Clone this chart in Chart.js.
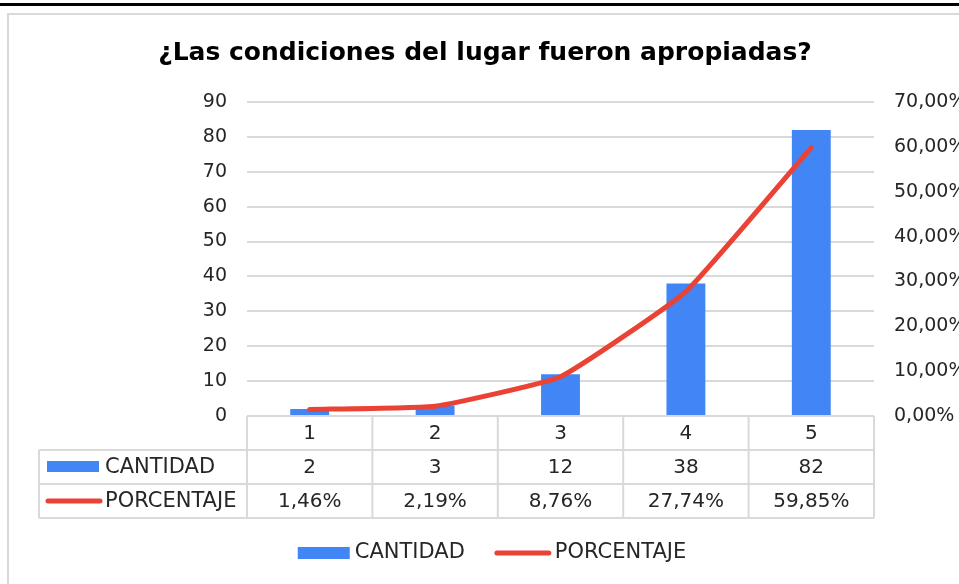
<!DOCTYPE html>
<html>
<head>
<meta charset="utf-8">
<title>¿Las condiciones del lugar fueron apropiadas?</title>
<script src="https://cdn.jsdelivr.net/npm/chart.js@4/dist/chart.umd.min.js"></script>
<style>
	html, body { margin: 0; padding: 0; background: #fff; }
	canvas { display: block; }
</style>
</head>
<body>
<canvas id="grafico" width="959" height="584"></canvas>
<script>
	// datos
	var titulo = '¿Las condiciones del lugar fueron apropiadas?';
	var categorias = ['1', '2', '3', '4', '5'];
	var cantidad = [2, 3, 12, 38, 82];
	var porcentaje = [1.46, 2.19, 8.76, 27.74, 59.85];
	var nombres = ['CANTIDAD', 'PORCENTAJE'];
	var colores = ['#4285F4', '#EA4335'];

	var fuente = 'DejaVu Sans';
	var gris = '#d9d9d9';
	var texto = '#262626';

	function fmtPct(v) {
		return v.toFixed(2).replace('.', ',') + '%';
	}

	Chart.defaults.font.family = fuente;
	Chart.defaults.color = texto;

	var tablaDatos = {
		id: 'tablaDatos',
		beforeDraw: function(chart) {
			var ctx = chart.ctx;
			ctx.save();
			ctx.fillStyle = '#fff';
			ctx.fillRect(0, 0, chart.width, chart.height);
			// linea negra superior
			ctx.fillStyle = '#000';
			ctx.fillRect(0, 3, chart.width, 3);
			// marco del grafico
			ctx.strokeStyle = gris;
			ctx.lineWidth = 2;
			ctx.strokeRect(8, 14, 1000, 1000);
			// titulo
			ctx.fillStyle = '#000';
			ctx.font = 'bold 25px ' + fuente;
			ctx.textAlign = 'center';
			ctx.textBaseline = 'alphabetic';
			ctx.fillText(titulo, 485, 60);
			ctx.restore();
		},
		afterDraw: function(chart) {
			var ctx = chart.ctx;
			var area = chart.chartArea;
			var xs = chart.scales.x;
			var bordes = [area.left];
			for (var i = 0; i < categorias.length - 1; i++) {
				bordes.push((xs.getPixelForValue(i) + xs.getPixelForValue(i + 1)) / 2);
			}
			bordes.push(area.right);
			var alto = 34;
			var y0 = area.bottom;
			var izq = 39;

			ctx.save();
			ctx.strokeStyle = gris;
			ctx.lineWidth = 2;
			ctx.beginPath();
			ctx.moveTo(area.left, y0);
			ctx.lineTo(area.right, y0);
			for (var r = 1; r <= 3; r++) {
				ctx.moveTo(izq, y0 + r * alto);
				ctx.lineTo(area.right, y0 + r * alto);
			}
			ctx.moveTo(izq, y0 + alto);
			ctx.lineTo(izq, y0 + 3 * alto);
			bordes.forEach(function(b) {
				ctx.moveTo(b, y0);
				ctx.lineTo(b, y0 + 3 * alto);
			});
			ctx.stroke();

			ctx.fillStyle = texto;
			ctx.font = '20px ' + fuente;
			ctx.textAlign = 'center';
			ctx.textBaseline = 'middle';
			var filas = [categorias, cantidad.map(String), porcentaje.map(fmtPct)];
			filas.forEach(function(fila, r) {
				fila.forEach(function(t, i) {
					ctx.fillText(t, xs.getPixelForValue(i), y0 + r * alto + alto / 2 + 1);
				});
			});

			// claves de la tabla
			ctx.fillStyle = colores[0];
			ctx.fillRect(47, y0 + alto + 11, 52, 11);
			ctx.strokeStyle = colores[1];
			ctx.lineWidth = 5;
			ctx.lineCap = 'round';
			ctx.beginPath();
			ctx.moveTo(48, y0 + 2 * alto + 17);
			ctx.lineTo(100, y0 + 2 * alto + 17);
			ctx.stroke();
			ctx.font = '21px ' + fuente;
			ctx.fillStyle = texto;
			ctx.textAlign = 'left';
			ctx.fillText(nombres[0], 105, y0 + alto + alto / 2 + 1);
			ctx.fillText(nombres[1], 105, y0 + 2 * alto + alto / 2 + 1);

			// leyenda inferior
			var w1 = ctx.measureText(nombres[0]).width;
			var w2 = ctx.measureText(nombres[1]).width;
			var total = 52 + 5 + w1 + 30 + 56 + 4 + w2;
			var x = 492 - total / 2;
			var yl = 553;
			ctx.fillStyle = colores[0];
			ctx.fillRect(x, yl - 6, 52, 12);
			x += 57;
			ctx.fillStyle = texto;
			ctx.fillText(nombres[0], x, yl);
			x += w1 + 30;
			ctx.strokeStyle = colores[1];
			ctx.beginPath();
			ctx.moveTo(x + 2, yl);
			ctx.lineTo(x + 54, yl);
			ctx.stroke();
			x += 60;
			ctx.fillText(nombres[1], x, yl);
			ctx.restore();
		}
	};

	new Chart(document.getElementById('grafico'), {
		type: 'bar',
		data: {
			labels: categorias,
			datasets: [{
				type: 'line',
				label: nombres[1],
				data: porcentaje,
				yAxisID: 'y1',
				borderColor: colores[1],
				backgroundColor: colores[1],
				borderWidth: 5,
				borderCapStyle: 'round',
				borderJoinStyle: 'round',
				pointRadius: 0,
				tension: 0.12,
				clip: false,
				order: 0
			}, {
				type: 'bar',
				label: nombres[0],
				data: cantidad,
				yAxisID: 'y',
				backgroundColor: colores[0],
				categoryPercentage: 1,
				barPercentage: 0.31,
				order: 1
			}]
		},
		options: {
			responsive: false,
			devicePixelRatio: 1,
			animation: false,
			layout: { padding: { top: 102, bottom: 168, left: 0, right: 0 } },
			plugins: {
				legend: { display: false },
				title: { display: false },
				tooltip: { enabled: false }
			},
			scales: {
				x: { display: false },
				y: {
					position: 'left',
					min: 0,
					max: 90,
					ticks: { stepSize: 10, padding: 20, font: { size: 19 }, color: texto },
					grid: { color: gris, lineWidth: 2, drawTicks: false },
					border: { display: false },
					afterFit: function(s) { s.width = 247; }
				},
				y1: {
					position: 'right',
					min: 0,
					max: 70,
					ticks: { stepSize: 10, padding: 20, font: { size: 19 }, color: texto, callback: function(v) { return fmtPct(v); } },
					grid: { display: false, drawTicks: false },
					border: { display: false },
					afterFit: function(s) { s.width = 85; }
				}
			}
		},
		plugins: [tablaDatos]
	});
</script>
</body>
</html>
